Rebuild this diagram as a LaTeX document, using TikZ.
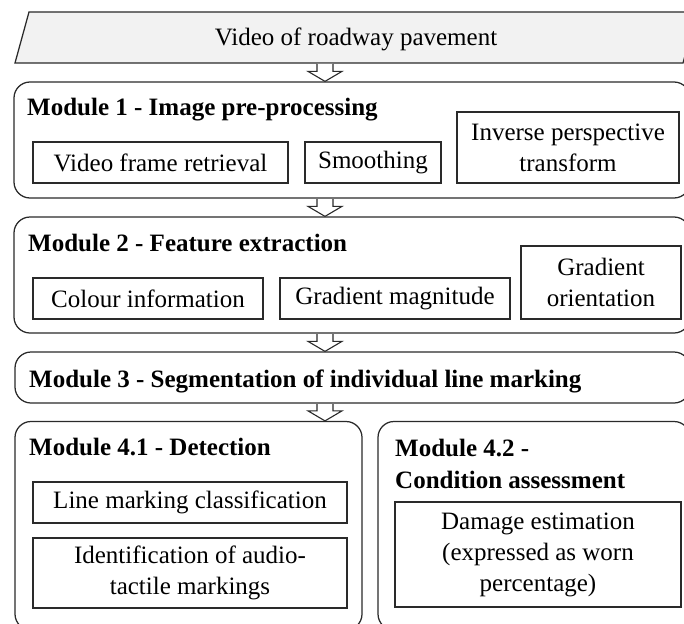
\documentclass[tikz,border=0pt]{standalone}
\usepackage{fontspec}
\setmainfont{Liberation Serif}
\usetikzlibrary{calc}
\definecolor{edge}{HTML}{2A2A2A}
\definecolor{paral}{HTML}{F2F2F2}
\tikzset{
  modbox/.style={draw=edge, line width=1.25pt, rounded corners=16pt, inner sep=0pt},
  subbox/.style={draw=edge, line width=1.15pt, align=center, inner sep=0pt},
  title/.style={font=\fontsize{25}{32}\selectfont\bfseries, anchor=base west, inner sep=0pt},
  blockarr/.style={draw=edge, fill=white, line width=1.1pt, line join=miter},
}
\newcommand\blockarr[2]{%
  \draw[blockarr] ($(ax|-#1.south)+(-8,0.6)$) -- ($(ax|-#2.north)+(-8,-10)$)
    -- ($(ax|-#2.north)+(-17,-10)$) -- (ax|-#2.north) -- ($(ax|-#2.north)+(17,-10)$)
    -- ($(ax|-#2.north)+(8,-10)$) -- ($(ax|-#1.south)+(8,0.6)$);}
\begin{document}
\begin{tikzpicture}[x=1pt, y=-1pt, font=\fontsize{25}{31}\selectfont]
\useasboundingbox (0,0) rectangle (684,623);
\clip (0,0) rectangle (684,623);
\coordinate (ax) at (325,0);

% input parallelogram
\draw[draw=edge, fill=paral, line width=1.25pt] (15,63) -- (29,12) -- (697,12) -- (683,63) -- cycle;
\node[minimum width=668, minimum height=51, inner sep=0pt, text height=17pt, text depth=0pt] (video) at (356,37.5) {Video of roadway pavement};

% module boxes
\node[modbox, minimum width=676, minimum height=116] (m1) at (352,140) {};
\node[modbox, minimum width=676, minimum height=116] (m2) at (352,275) {};
\node[modbox, minimum width=675, minimum height=51] (m3) at (352.5,377.5) {};
\node[modbox, minimum width=347, minimum height=208.5] (m41) at (188.5,525.75) {};
\node[modbox, minimum width=312, minimum height=208.5] (m42) at (534,525.75) {};

% titles
\node[title] (t1) at (27,115) {Module 1 - Image pre-processing};
\node[title] (t2) at (28,251) {Module 2 - Feature extraction};
\node[title] (t3) at (29,387) {Module 3 - Segmentation of individual line marking};
\node[title] (t41) at (29,455) {Module 4.1 - Detection};
\node[title, anchor=north west, align=left] (t42) at (395,439) {Module 4.2 -\\Condition assessment};

% module 1 steps
\node[subbox, minimum width=255, minimum height=41] (vfr) at (160.5,162.5) {Video frame retrieval};
\node[subbox, minimum width=136, minimum height=41] (smo) at (373,162.5) {Smoothing};
\node[subbox, minimum width=222, minimum height=71] (ipt) at (568,147.5) {Inverse perspective\\transform};

% module 2 steps
\node[subbox, minimum width=230, minimum height=41] (col) at (148,298.5) {Colour information};
\node[subbox, minimum width=230, minimum height=41] (gmag) at (395,298.5) {Gradient magnitude};
\node[subbox, minimum width=160, minimum height=73] (gori) at (601,282.5) {Gradient\\orientation};

% module 4 steps
\node[subbox, minimum width=314, minimum height=41] (lmc) at (190,502.5) {Line marking classification};
\node[subbox, minimum width=314, minimum height=70] (idn) at (190,573) {Identification of audio-\\tactile markings};
\node[subbox, minimum width=286, minimum height=105] (dmg) at (538,554.5) {Damage estimation\\(expressed as worn\\percentage)};

% block arrows
\blockarr{video}{m1}
\blockarr{m1}{m2}
\blockarr{m2}{m3}
\blockarr{m3}{m41}
\end{tikzpicture}
\end{document}
